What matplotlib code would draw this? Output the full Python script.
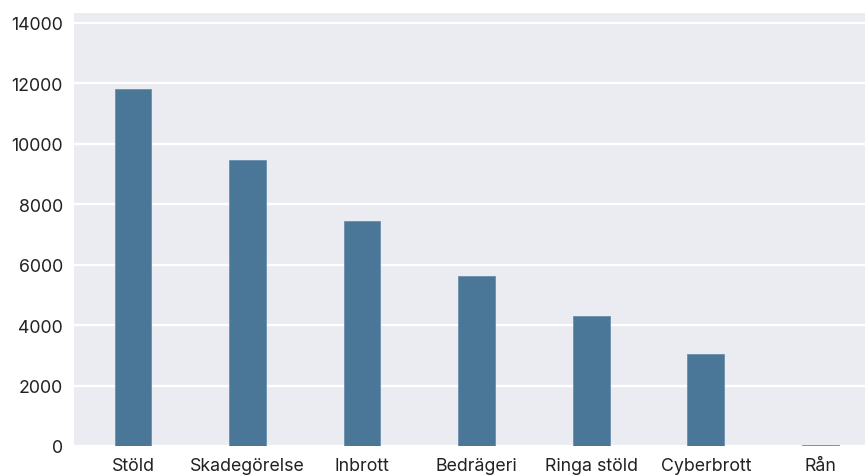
import matplotlib
matplotlib.use("Agg")
import matplotlib.pyplot as plt
import numpy as np

categories = ['Stöld', 'Skadegörelse', 'Inbrott', 'Bedrägeri', 'Ringa stöld', 'Cyberbrott', 'Rån']
counts = [11800, 9460, 7440, 5620, 4300, 3040, 30]

plt.rcParams['font.family'] = ['Inter', 'DejaVu Sans']

fig = plt.figure(figsize=(8.65, 4.77), dpi=100)
ax = fig.add_axes([74/865, 1 - 447/477, 1 - 74/865, (447 - 14)/477])
ax.set_facecolor('#eaecf1')

x = np.arange(len(categories))
ax.bar(x, counts, width=0.32, color='#4a7698', edgecolor='#6a90ad', linewidth=0.6, zorder=2)

ax.set_xlim(-0.515, 6.39)
ax.set_ylim(0, 14330)
ax.set_yticks(np.arange(0, 14001, 2000))
ax.set_xticks(x)
ax.set_xticklabels(categories)
ax.grid(axis='y', color='white', linewidth=1.6, zorder=1)
ax.set_axisbelow(True)
ax.tick_params(length=0, labelsize=12.8, colors='#222222')
ax.tick_params(axis='x', pad=8)
ax.tick_params(axis='y', pad=8)
for s in ax.spines.values():
    s.set_visible(False)

fig.savefig('out.png', dpi=100)
